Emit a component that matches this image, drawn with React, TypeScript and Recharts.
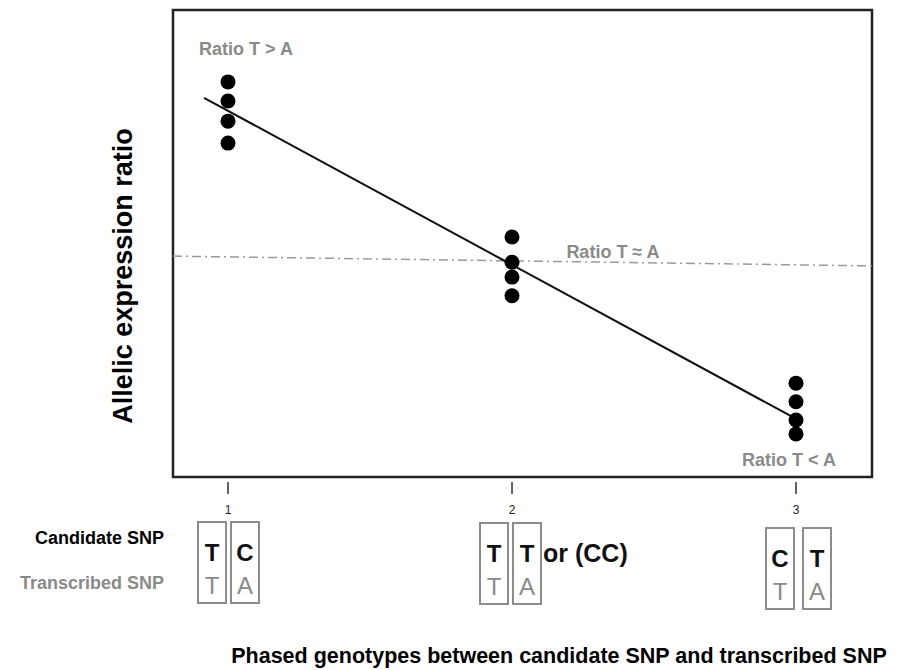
import React from 'react';
import { ComposedChart, XAxis, YAxis, Scatter, Line, ReferenceArea } from 'recharts';

// genotype groups on the x axis
const categories = [1, 2, 3];
const candidateAlleles = [['T', 'C'], ['T', 'T'], ['C', 'T']];
const transcribedAlleles = [['T', 'A'], ['T', 'A'], ['T', 'A']];
const genotypeNotes = ['', 'or (CC)', ''];

// allelic expression ratio per group (arbitrary units 0-100)
const ratiosGroup1 = [84.6, 80.5, 76.2, 71.5];
const ratiosGroup2 = [51.4, 46.0, 42.8, 38.8];
const ratiosGroup3 = [20.1, 16.1, 12.2, 9.2];

const fitLine = [
  { x: 0.9155, y: 81.2 },
  { x: 2.9894, y: 12.8 },
];
const equalLine = [
  { x: 0.8063, y: 47.3 },
  { x: 3.2676, y: 45.2 },
];

const annotations = [
  { x: 1.0634, y: 91.6, label: 'Ratio T > A' },
  { x: 2.3556, y: 48.2, label: 'Ratio T \u2248 A' },
  { x: 2.9754, y: 3.6, label: 'Ratio T < A' },
];

const X_DOMAIN: [number, number] = [0.8063, 3.2676];
const Y_DOMAIN: [number, number] = [0, 100];

const FONT = '"Liberation Sans", Arial, sans-serif';
const GREY = '#8a8a8a';

const points = categories.flatMap((c, i) =>
  [ratiosGroup1, ratiosGroup2, ratiosGroup3][i].map((v) => ({ x: c, y: v }))
);

// box layout under each tick (offsets from tick x, top from axis y)
const boxLeft = [-30, -32, -30];
const boxRight = [3, 1, 7];
const boxTop = [45, 46, 51];
const BOX_W = 28;
const BOX_H = 81;

const GenotypeTick = (props: any) => {
  const { x, y, payload } = props;
  const i = categories.indexOf(payload.value);
  const top = y + boxTop[i];
  const lefts = [x + boxLeft[i], x + boxRight[i]];
  return (
    <g fontFamily={FONT}>
      <line x1={x} x2={x} y1={y + 5} y2={y + 17} stroke="#333" strokeWidth={1.5} />
      <text x={x} y={y + 33} textAnchor="middle" dominantBaseline="central" fontSize={12} fill="#222">
        {payload.value}
      </text>
      {lefts.map((bx, k) => (
        <g key={k}>
          <rect x={bx} y={top} width={BOX_W} height={BOX_H} fill="none" stroke="#8c8c8c" strokeWidth={2} />
          <text x={bx + BOX_W / 2} y={top + 30} textAnchor="middle" dominantBaseline="central"
            fontSize={24} fontWeight="bold" fill="#111">
            {candidateAlleles[i][k]}
          </text>
          <text x={bx + BOX_W / 2} y={top + 63} textAnchor="middle" dominantBaseline="central"
            fontSize={24} fill={GREY}>
            {transcribedAlleles[i][k]}
          </text>
        </g>
      ))}
      {genotypeNotes[i] && (
        <text x={lefts[1] + BOX_W + 2} y={top + 30} dominantBaseline="central"
          fontSize={25} fontWeight="bold" fill="#111">
          {genotypeNotes[i]}
        </text>
      )}
    </g>
  );
};

const Dot = (p: any) => <circle cx={p.cx} cy={p.cy} r={7.5} fill="#000" />;

const Note = (p: any) => (
  <text x={p.cx} y={p.cy} textAnchor="middle" dominantBaseline="central"
    fontFamily={FONT} fontSize={18} fontWeight="bold" fill={GREY}>
    {p.payload.label}
  </text>
);

export default function App() {
  return (
    <div style={{ position: 'absolute', left: 0, top: 0, background: '#fff' }}>
      <ComposedChart width={905} height={670} margin={{ top: 10, right: 33, bottom: 43, left: 173 }}>
        <XAxis
          type="number"
          dataKey="x"
          domain={X_DOMAIN}
          ticks={categories}
          allowDataOverflow
          axisLine={false}
          tickLine={false}
          tickSize={0}
          tickMargin={0}
          height={150}
          interval={0}
          tick={<GenotypeTick />}
        />
        <YAxis type="number" dataKey="y" domain={Y_DOMAIN} hide allowDataOverflow />
        <ReferenceArea x1={X_DOMAIN[0]} x2={X_DOMAIN[1]} y1={Y_DOMAIN[0]} y2={Y_DOMAIN[1]}
          fill="none" fillOpacity={0} stroke="#222" strokeWidth={2.5} ifOverflow="visible" />
        <Line data={equalLine} dataKey="y" stroke="#9a9a9a" strokeWidth={1.5}
          strokeDasharray="9 4 2 4" dot={false} isAnimationActive={false} />
        <Line data={fitLine} dataKey="y" stroke="#111" strokeWidth={2} dot={false} isAnimationActive={false} />
        <Scatter data={points} dataKey="y" shape={<Dot />} isAnimationActive={false} />
        <Scatter data={annotations} dataKey="y" shape={<Note />} isAnimationActive={false} />
        <text x={123} y={276} transform="rotate(-90 123 276)" textAnchor="middle" dominantBaseline="central"
          fontFamily={FONT} fontSize={27} fontWeight="bold" fill="#000">
          Allelic expression ratio
        </text>
        <text x={164} y={538} textAnchor="end" dominantBaseline="central"
          fontFamily={FONT} fontSize={18} fontWeight="bold" fill="#000">
          Candidate SNP
        </text>
        <text x={164} y={583} textAnchor="end" dominantBaseline="central"
          fontFamily={FONT} fontSize={18} fontWeight="bold" fill={GREY}>
          Transcribed SNP
        </text>
        <text x={559} y={656} textAnchor="middle" dominantBaseline="central"
          fontFamily={FONT} fontSize={21.5} fontWeight="bold" fill="#000">
          Phased genotypes between candidate SNP and transcribed SNP
        </text>
      </ComposedChart>
    </div>
  );
}
